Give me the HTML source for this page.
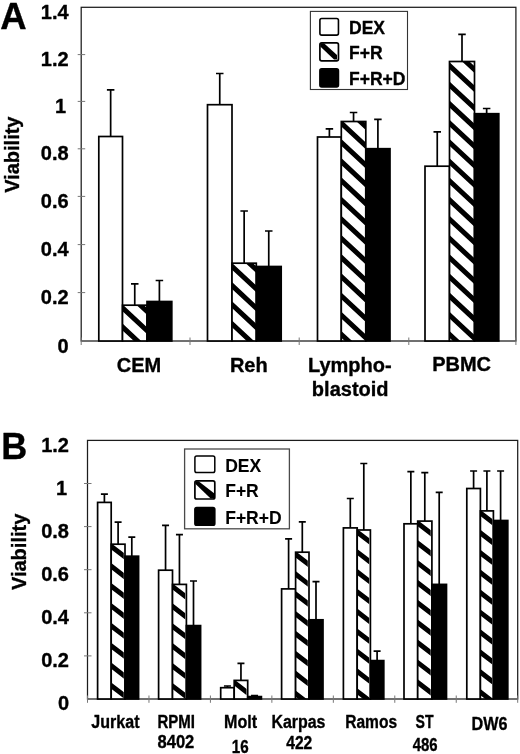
<!DOCTYPE html>
<html lang="en"><head><meta charset="utf-8"><title>Viability figure</title>
<style>html,body{margin:0;padding:0;background:#fff}svg{display:block}text{font-family:'Liberation Sans', Arial, Helvetica, sans-serif;font-weight:bold;fill:#000;stroke:#000;stroke-width:0.35px;stroke-linejoin:round}.lt{stroke-width:0.1px}</style>
</head><body>
<svg width="520" height="754" viewBox="0 0 520 754">
<rect width="520" height="754" fill="#fff"/>
<rect x="81.2" y="7.3" width="434.7" height="333.7" fill="none" stroke="#1c1c1c" stroke-width="1.25"/>
<path d="M77.7 292.60H85.2" stroke="#777" stroke-width="1"/>
<path d="M77.7 244.60H85.2" stroke="#777" stroke-width="1"/>
<path d="M77.7 196.40H85.2" stroke="#777" stroke-width="1"/>
<path d="M77.7 148.80H85.2" stroke="#777" stroke-width="1"/>
<path d="M77.7 101.40H85.2" stroke="#777" stroke-width="1"/>
<path d="M77.7 54.60H85.2" stroke="#777" stroke-width="1"/>
<path d="M81.20 337.5V345.0" stroke="#777" stroke-width="1"/>
<path d="M190.00 337.5V345.0" stroke="#777" stroke-width="1"/>
<path d="M299.20 337.5V345.0" stroke="#777" stroke-width="1"/>
<path d="M408.80 337.5V345.0" stroke="#777" stroke-width="1"/>
<path d="M515.90 337.5V345.0" stroke="#777" stroke-width="1"/>
<text x="68.60" y="352.50" font-size="20" text-anchor="end" >0</text>
<text x="68.60" y="304.10" font-size="20" text-anchor="end" >0.2</text>
<text x="68.60" y="256.10" font-size="20" text-anchor="end" >0.4</text>
<text x="68.60" y="207.90" font-size="20" text-anchor="end" >0.6</text>
<text x="68.60" y="160.30" font-size="20" text-anchor="end" >0.8</text>
<text x="66.20" y="112.90" font-size="20" text-anchor="end" >1</text>
<text x="68.60" y="66.10" font-size="20" text-anchor="end" >1.2</text>
<text x="68.60" y="18.70" font-size="20" text-anchor="end" >1.4</text>
<path d="M110.65 136.50V89.80M106.90 89.80H114.40" stroke="#000" stroke-width="1.7" fill="none"/>
<path d="M134.75 305.20V283.80M131.00 283.80H138.50" stroke="#000" stroke-width="1.7" fill="none"/>
<path d="M159.40 301.50V280.50M155.65 280.50H163.15" stroke="#000" stroke-width="1.7" fill="none"/>
<rect x="98.80" y="136.50" width="23.70" height="204.50" fill="#fff" stroke="#000" stroke-width="1.7" />
<clipPath id="c1"><rect x="122.50" y="305.20" width="24.50" height="35.80"/></clipPath>
<rect x="122.50" y="305.20" width="24.50" height="35.80" fill="#fff"/>
<path clip-path="url(#c1)" fill="#000" d="M122.50 285.20L147.00 307.99L147.00 314.79L122.50 292.00ZM122.50 304.40L147.00 327.19L147.00 333.99L122.50 311.20ZM122.50 323.60L147.00 346.38L147.00 353.19L122.50 330.40Z"/>
<rect x="122.50" y="305.20" width="24.50" height="35.80" fill="none" stroke="#000" stroke-width="1.7"/>
<rect x="147.00" y="301.50" width="24.80" height="39.50" fill="#000" stroke="#000" stroke-width="1.7" />
<path d="M219.75 104.70V73.50M216.00 73.50H223.50" stroke="#000" stroke-width="1.7" fill="none"/>
<path d="M244.15 263.20V211.00M240.40 211.00H247.90" stroke="#000" stroke-width="1.7" fill="none"/>
<path d="M268.75 266.50V231.00M265.00 231.00H272.50" stroke="#000" stroke-width="1.7" fill="none"/>
<rect x="207.50" y="104.70" width="24.50" height="236.30" fill="#fff" stroke="#000" stroke-width="1.7" />
<clipPath id="c2"><rect x="232.00" y="263.20" width="24.30" height="77.80"/></clipPath>
<rect x="232.00" y="263.20" width="24.30" height="77.80" fill="#fff"/>
<path clip-path="url(#c2)" fill="#000" d="M232.00 243.70L256.30 266.30L256.30 273.10L232.00 250.50ZM232.00 262.90L256.30 285.50L256.30 292.30L232.00 269.70ZM232.00 282.10L256.30 304.70L256.30 311.50L232.00 288.90ZM232.00 301.30L256.30 323.90L256.30 330.70L232.00 308.10ZM232.00 320.50L256.30 343.10L256.30 349.90L232.00 327.30ZM232.00 339.70L256.30 362.30L256.30 369.10L232.00 346.50Z"/>
<rect x="232.00" y="263.20" width="24.30" height="77.80" fill="none" stroke="#000" stroke-width="1.7"/>
<rect x="256.30" y="266.50" width="24.90" height="74.50" fill="#000" stroke="#000" stroke-width="1.7" />
<path d="M329.40 137.00V128.80M325.65 128.80H333.15" stroke="#000" stroke-width="1.7" fill="none"/>
<path d="M353.55 121.50V112.50M349.80 112.50H357.30" stroke="#000" stroke-width="1.7" fill="none"/>
<path d="M377.90 148.70V119.30M374.15 119.30H381.65" stroke="#000" stroke-width="1.7" fill="none"/>
<rect x="317.50" y="137.00" width="23.80" height="204.00" fill="#fff" stroke="#000" stroke-width="1.7" />
<clipPath id="c3"><rect x="341.30" y="121.50" width="24.50" height="219.50"/></clipPath>
<rect x="341.30" y="121.50" width="24.50" height="219.50" fill="#fff"/>
<path clip-path="url(#c3)" fill="#000" d="M341.30 100.50L365.80 123.28L365.80 130.09L341.30 107.30ZM341.30 119.70L365.80 142.49L365.80 149.29L341.30 126.50ZM341.30 138.90L365.80 161.69L365.80 168.49L341.30 145.70ZM341.30 158.10L365.80 180.88L365.80 187.69L341.30 164.90ZM341.30 177.30L365.80 200.08L365.80 206.88L341.30 184.10ZM341.30 196.50L365.80 219.28L365.80 226.08L341.30 203.30ZM341.30 215.70L365.80 238.48L365.80 245.28L341.30 222.50ZM341.30 234.90L365.80 257.68L365.80 264.48L341.30 241.70ZM341.30 254.10L365.80 276.88L365.80 283.68L341.30 260.90ZM341.30 273.30L365.80 296.08L365.80 302.88L341.30 280.10ZM341.30 292.50L365.80 315.28L365.80 322.08L341.30 299.30ZM341.30 311.70L365.80 334.48L365.80 341.28L341.30 318.50ZM341.30 330.90L365.80 353.68L365.80 360.48L341.30 337.70Z"/>
<rect x="341.30" y="121.50" width="24.50" height="219.50" fill="none" stroke="#000" stroke-width="1.7"/>
<rect x="365.80" y="148.70" width="24.20" height="192.30" fill="#000" stroke="#000" stroke-width="1.7" />
<path d="M437.25 166.20V131.80M433.50 131.80H441.00" stroke="#000" stroke-width="1.7" fill="none"/>
<path d="M462.00 61.50V34.30M458.25 34.30H465.75" stroke="#000" stroke-width="1.7" fill="none"/>
<path d="M486.65 113.70V108.50M482.90 108.50H490.40" stroke="#000" stroke-width="1.7" fill="none"/>
<rect x="425.00" y="166.20" width="24.50" height="174.80" fill="#fff" stroke="#000" stroke-width="1.7" />
<clipPath id="c4"><rect x="449.50" y="61.50" width="25.00" height="279.50"/></clipPath>
<rect x="449.50" y="61.50" width="25.00" height="279.50" fill="#fff"/>
<path clip-path="url(#c4)" fill="#000" d="M449.50 43.00L474.50 66.25L474.50 73.05L449.50 49.80ZM449.50 62.20L474.50 85.45L474.50 92.25L449.50 69.00ZM449.50 81.40L474.50 104.65L474.50 111.45L449.50 88.20ZM449.50 100.60L474.50 123.85L474.50 130.65L449.50 107.40ZM449.50 119.80L474.50 143.05L474.50 149.85L449.50 126.60ZM449.50 139.00L474.50 162.25L474.50 169.05L449.50 145.80ZM449.50 158.20L474.50 181.45L474.50 188.25L449.50 165.00ZM449.50 177.40L474.50 200.65L474.50 207.45L449.50 184.20ZM449.50 196.60L474.50 219.85L474.50 226.65L449.50 203.40ZM449.50 215.80L474.50 239.05L474.50 245.85L449.50 222.60ZM449.50 235.00L474.50 258.25L474.50 265.05L449.50 241.80ZM449.50 254.20L474.50 277.45L474.50 284.25L449.50 261.00ZM449.50 273.40L474.50 296.65L474.50 303.45L449.50 280.20ZM449.50 292.60L474.50 315.85L474.50 322.65L449.50 299.40ZM449.50 311.80L474.50 335.05L474.50 341.85L449.50 318.60ZM449.50 331.00L474.50 354.25L474.50 361.05L449.50 337.80Z"/>
<rect x="449.50" y="61.50" width="25.00" height="279.50" fill="none" stroke="#000" stroke-width="1.7"/>
<rect x="474.50" y="113.70" width="24.30" height="227.30" fill="#000" stroke="#000" stroke-width="1.7" />
<rect x="310.40" y="11.40" width="97.10" height="78.10" fill="#fff" stroke="#333" stroke-width="1.1" />
<rect x="319.90" y="18.50" width="18.55" height="16.60" fill="#fff" stroke="#000" stroke-width="1.6" rx="1.8"/>
<rect x="319.90" y="42.90" width="18.55" height="17.90" fill="#fff" stroke="#000" stroke-width="1.7" rx="1.8"/>
<path d="M320.3 43.2L324 43.2L337 55V59.6L334 59.6L320.3 46.6Z" fill="#000"/>
<rect x="319.90" y="68.90" width="18.55" height="17.95" fill="#000" stroke="#000" stroke-width="1.6" rx="1.8"/>
<text x="349.00" y="34.20" font-size="17.5" text-anchor="start" >DEX</text>
<text x="349.00" y="58.60" font-size="17.5" text-anchor="start" >F+R</text>
<text x="349.00" y="85.20" font-size="17.5" text-anchor="start" >F+R+D</text>
<text x="139.00" y="371.60" font-size="20" text-anchor="middle" >CEM</text>
<text x="248.80" y="371.60" font-size="20" text-anchor="middle" >Reh</text>
<text x="349.80" y="371.60" font-size="20" text-anchor="middle" >Lympho-</text>
<text x="350.20" y="395.90" font-size="20" text-anchor="middle" >blastoid</text>
<text x="461.60" y="370.60" font-size="20" text-anchor="middle" >PBMC</text>
<text x="0.30" y="28.60" font-size="36.5" text-anchor="start" >A</text>
<text x="0.00" y="0.00" font-size="20" text-anchor="middle" transform="translate(18.7 154.7) rotate(-90)">Viability</text>
<rect x="87.5" y="440.4" width="430.20000000000005" height="258.6" fill="none" stroke="#1c1c1c" stroke-width="1.25"/>
<path d="M84.0 655.90H91.5" stroke="#777" stroke-width="1"/>
<path d="M84.0 612.80H91.5" stroke="#777" stroke-width="1"/>
<path d="M84.0 569.70H91.5" stroke="#777" stroke-width="1"/>
<path d="M84.0 526.60H91.5" stroke="#777" stroke-width="1"/>
<path d="M84.0 483.50H91.5" stroke="#777" stroke-width="1"/>
<path d="M87.50 695.5V702.8" stroke="#777" stroke-width="1"/>
<path d="M148.96 695.5V702.8" stroke="#777" stroke-width="1"/>
<path d="M210.41 695.5V702.8" stroke="#777" stroke-width="1"/>
<path d="M271.87 695.5V702.8" stroke="#777" stroke-width="1"/>
<path d="M333.33 695.5V702.8" stroke="#777" stroke-width="1"/>
<path d="M394.79 695.5V702.8" stroke="#777" stroke-width="1"/>
<path d="M456.24 695.5V702.8" stroke="#777" stroke-width="1"/>
<path d="M517.70 695.5V702.8" stroke="#777" stroke-width="1"/>
<text x="69.00" y="710.30" font-size="20" text-anchor="end" >0</text>
<text x="69.00" y="667.20" font-size="20" text-anchor="end" >0.2</text>
<text x="69.00" y="624.10" font-size="20" text-anchor="end" >0.4</text>
<text x="69.00" y="581.00" font-size="20" text-anchor="end" >0.6</text>
<text x="69.00" y="537.90" font-size="20" text-anchor="end" >0.8</text>
<text x="67.00" y="494.80" font-size="20" text-anchor="end" >1</text>
<text x="69.00" y="451.70" font-size="20" text-anchor="end" >1.2</text>
<path d="M104.40 502.40V494.20M100.90 494.20H107.90" stroke="#000" stroke-width="1.7" fill="none"/>
<path d="M118.10 544.20V522.20M114.60 522.20H121.60" stroke="#000" stroke-width="1.7" fill="none"/>
<path d="M131.80 556.20V537.20M128.30 537.20H135.30" stroke="#000" stroke-width="1.7" fill="none"/>
<rect x="97.60" y="502.40" width="13.60" height="196.60" fill="#fff" stroke="#000" stroke-width="1.7" />
<clipPath id="c5"><rect x="111.20" y="544.20" width="12.60" height="154.80"/></clipPath>
<rect x="111.20" y="544.20" width="13.80" height="154.80" fill="#fff"/>
<path clip-path="url(#c5)" fill="#000" d="M111.20 523.30L125.00 533.93L125.00 540.13L111.20 529.50ZM111.20 543.20L125.00 553.83L125.00 560.03L111.20 549.40ZM111.20 563.10L125.00 573.73L125.00 579.93L111.20 569.30ZM111.20 583.00L125.00 593.63L125.00 599.83L111.20 589.20ZM111.20 602.90L125.00 613.53L125.00 619.73L111.20 609.10ZM111.20 622.80L125.00 633.43L125.00 639.63L111.20 629.00ZM111.20 642.70L125.00 653.33L125.00 659.53L111.20 648.90ZM111.20 662.60L125.00 673.23L125.00 679.43L111.20 668.80ZM111.20 682.50L125.00 693.13L125.00 699.33L111.20 688.70Z"/>
<rect x="111.20" y="544.20" width="13.80" height="154.80" fill="none" stroke="#000" stroke-width="1.7"/>
<rect x="125.00" y="556.20" width="13.60" height="142.80" fill="#000" stroke="#000" stroke-width="1.7" />
<path d="M165.55 570.20V525.40M162.05 525.40H169.05" stroke="#000" stroke-width="1.7" fill="none"/>
<path d="M179.45 584.40V534.70M175.95 534.70H182.95" stroke="#000" stroke-width="1.7" fill="none"/>
<path d="M193.50 625.60V581.00M190.00 581.00H197.00" stroke="#000" stroke-width="1.7" fill="none"/>
<rect x="158.60" y="570.20" width="13.90" height="128.80" fill="#fff" stroke="#000" stroke-width="1.7" />
<clipPath id="c6"><rect x="172.50" y="584.40" width="12.70" height="114.60"/></clipPath>
<rect x="172.50" y="584.40" width="13.90" height="114.60" fill="#fff"/>
<path clip-path="url(#c6)" fill="#000" d="M172.50 563.50L186.40 574.20L186.40 580.40L172.50 569.70ZM172.50 583.40L186.40 594.10L186.40 600.30L172.50 589.60ZM172.50 603.30L186.40 614.00L186.40 620.20L172.50 609.50ZM172.50 623.20L186.40 633.90L186.40 640.10L172.50 629.40ZM172.50 643.10L186.40 653.80L186.40 660.00L172.50 649.30ZM172.50 663.00L186.40 673.70L186.40 679.90L172.50 669.20ZM172.50 682.90L186.40 693.60L186.40 699.80L172.50 689.10Z"/>
<rect x="172.50" y="584.40" width="13.90" height="114.60" fill="none" stroke="#000" stroke-width="1.7"/>
<rect x="186.40" y="625.60" width="14.20" height="73.40" fill="#000" stroke="#000" stroke-width="1.7" />
<path d="M227.45 687.70V686.00M223.95 686.00H230.95" stroke="#000" stroke-width="1.7" fill="none"/>
<path d="M240.95 680.40V663.40M237.45 663.40H244.45" stroke="#000" stroke-width="1.7" fill="none"/>
<path d="M254.55 696.60V695.60M251.05 695.60H258.05" stroke="#000" stroke-width="1.7" fill="none"/>
<rect x="220.70" y="687.70" width="13.50" height="11.30" fill="#fff" stroke="#000" stroke-width="1.7" />
<clipPath id="c7"><rect x="234.20" y="680.40" width="12.30" height="18.60"/></clipPath>
<rect x="234.20" y="680.40" width="13.50" height="18.60" fill="#fff"/>
<path clip-path="url(#c7)" fill="#000" d="M234.20 659.50L247.70 669.89L247.70 676.10L234.20 665.70ZM234.20 679.40L247.70 689.79L247.70 696.00L234.20 685.60Z"/>
<rect x="234.20" y="680.40" width="13.50" height="18.60" fill="none" stroke="#000" stroke-width="1.7"/>
<rect x="247.70" y="696.60" width="13.70" height="2.40" fill="#000" stroke="#000" stroke-width="1.7" />
<path d="M288.60 588.90V538.90M285.10 538.90H292.10" stroke="#000" stroke-width="1.7" fill="none"/>
<path d="M302.30 552.20V521.90M298.80 521.90H305.80" stroke="#000" stroke-width="1.7" fill="none"/>
<path d="M316.00 619.80V581.60M312.50 581.60H319.50" stroke="#000" stroke-width="1.7" fill="none"/>
<rect x="281.60" y="588.90" width="14.00" height="110.10" fill="#fff" stroke="#000" stroke-width="1.7" />
<clipPath id="c8"><rect x="295.60" y="552.20" width="12.20" height="146.80"/></clipPath>
<rect x="295.60" y="552.20" width="13.40" height="146.80" fill="#fff"/>
<path clip-path="url(#c8)" fill="#000" d="M295.60 531.30L309.00 541.62L309.00 547.82L295.60 537.50ZM295.60 551.20L309.00 561.52L309.00 567.72L295.60 557.40ZM295.60 571.10L309.00 581.42L309.00 587.62L295.60 577.30ZM295.60 591.00L309.00 601.32L309.00 607.52L295.60 597.20ZM295.60 610.90L309.00 621.22L309.00 627.42L295.60 617.10ZM295.60 630.80L309.00 641.12L309.00 647.32L295.60 637.00ZM295.60 650.70L309.00 661.02L309.00 667.22L295.60 656.90ZM295.60 670.60L309.00 680.92L309.00 687.12L295.60 676.80ZM295.60 690.50L309.00 700.82L309.00 707.02L295.60 696.70Z"/>
<rect x="295.60" y="552.20" width="13.40" height="146.80" fill="none" stroke="#000" stroke-width="1.7"/>
<rect x="309.00" y="619.80" width="14.00" height="79.20" fill="#000" stroke="#000" stroke-width="1.7" />
<path d="M350.30 527.90V498.50M346.80 498.50H353.80" stroke="#000" stroke-width="1.7" fill="none"/>
<path d="M363.80 530.00V463.50M360.30 463.50H367.30" stroke="#000" stroke-width="1.7" fill="none"/>
<path d="M377.10 660.60V651.20M373.60 651.20H380.60" stroke="#000" stroke-width="1.7" fill="none"/>
<rect x="343.40" y="527.90" width="13.80" height="171.10" fill="#fff" stroke="#000" stroke-width="1.7" />
<clipPath id="c9"><rect x="357.20" y="530.00" width="12.00" height="169.00"/></clipPath>
<rect x="357.20" y="530.00" width="13.20" height="169.00" fill="#fff"/>
<path clip-path="url(#c9)" fill="#000" d="M357.20 509.10L370.40 519.26L370.40 525.46L357.20 515.30ZM357.20 529.00L370.40 539.16L370.40 545.36L357.20 535.20ZM357.20 548.90L370.40 559.06L370.40 565.26L357.20 555.10ZM357.20 568.80L370.40 578.96L370.40 585.16L357.20 575.00ZM357.20 588.70L370.40 598.86L370.40 605.06L357.20 594.90ZM357.20 608.60L370.40 618.76L370.40 624.96L357.20 614.80ZM357.20 628.50L370.40 638.66L370.40 644.86L357.20 634.70ZM357.20 648.40L370.40 658.56L370.40 664.76L357.20 654.60ZM357.20 668.30L370.40 678.46L370.40 684.66L357.20 674.50ZM357.20 688.20L370.40 698.36L370.40 704.56L357.20 694.40Z"/>
<rect x="357.20" y="530.00" width="13.20" height="169.00" fill="none" stroke="#000" stroke-width="1.7"/>
<rect x="370.40" y="660.60" width="13.40" height="38.40" fill="#000" stroke="#000" stroke-width="1.7" />
<path d="M410.85 523.80V471.60M407.35 471.60H414.35" stroke="#000" stroke-width="1.7" fill="none"/>
<path d="M424.80 521.10V472.70M421.30 472.70H428.30" stroke="#000" stroke-width="1.7" fill="none"/>
<path d="M439.20 584.40V492.40M435.70 492.40H442.70" stroke="#000" stroke-width="1.7" fill="none"/>
<rect x="404.00" y="523.80" width="13.70" height="175.20" fill="#fff" stroke="#000" stroke-width="1.7" />
<clipPath id="c10"><rect x="417.70" y="521.10" width="13.00" height="177.90"/></clipPath>
<rect x="417.70" y="521.10" width="14.20" height="177.90" fill="#fff"/>
<path clip-path="url(#c10)" fill="#000" d="M417.70 500.20L431.90 511.13L431.90 517.33L417.70 506.40ZM417.70 520.10L431.90 531.03L431.90 537.23L417.70 526.30ZM417.70 540.00L431.90 550.93L431.90 557.13L417.70 546.20ZM417.70 559.90L431.90 570.83L431.90 577.03L417.70 566.10ZM417.70 579.80L431.90 590.73L431.90 596.93L417.70 586.00ZM417.70 599.70L431.90 610.63L431.90 616.83L417.70 605.90ZM417.70 619.60L431.90 630.53L431.90 636.73L417.70 625.80ZM417.70 639.50L431.90 650.43L431.90 656.63L417.70 645.70ZM417.70 659.40L431.90 670.33L431.90 676.53L417.70 665.60ZM417.70 679.30L431.90 690.23L431.90 696.43L417.70 685.50Z"/>
<rect x="417.70" y="521.10" width="14.20" height="177.90" fill="none" stroke="#000" stroke-width="1.7"/>
<rect x="431.90" y="584.40" width="14.60" height="114.60" fill="#000" stroke="#000" stroke-width="1.7" />
<path d="M473.60 488.50V471.00M470.10 471.00H477.10" stroke="#000" stroke-width="1.7" fill="none"/>
<path d="M486.90 510.90V471.00M483.40 471.00H490.40" stroke="#000" stroke-width="1.7" fill="none"/>
<path d="M500.60 520.50V471.00M497.10 471.00H504.10" stroke="#000" stroke-width="1.7" fill="none"/>
<rect x="466.80" y="488.50" width="13.60" height="210.50" fill="#fff" stroke="#000" stroke-width="1.7" />
<clipPath id="c11"><rect x="480.40" y="510.90" width="11.80" height="188.10"/></clipPath>
<rect x="480.40" y="510.90" width="13.00" height="188.10" fill="#fff"/>
<path clip-path="url(#c11)" fill="#000" d="M480.40 490.00L493.40 500.01L493.40 506.21L480.40 496.20ZM480.40 509.90L493.40 519.91L493.40 526.11L480.40 516.10ZM480.40 529.80L493.40 539.81L493.40 546.01L480.40 536.00ZM480.40 549.70L493.40 559.71L493.40 565.91L480.40 555.90ZM480.40 569.60L493.40 579.61L493.40 585.81L480.40 575.80ZM480.40 589.50L493.40 599.51L493.40 605.71L480.40 595.70ZM480.40 609.40L493.40 619.41L493.40 625.61L480.40 615.60ZM480.40 629.30L493.40 639.31L493.40 645.51L480.40 635.50ZM480.40 649.20L493.40 659.21L493.40 665.41L480.40 655.40ZM480.40 669.10L493.40 679.11L493.40 685.31L480.40 675.30ZM480.40 689.00L493.40 699.01L493.40 705.21L480.40 695.20Z"/>
<rect x="480.40" y="510.90" width="13.00" height="188.10" fill="none" stroke="#000" stroke-width="1.7"/>
<rect x="493.40" y="520.50" width="14.40" height="178.50" fill="#000" stroke="#000" stroke-width="1.7" />
<rect x="184.60" y="449.00" width="104.80" height="79.80" fill="#fff" stroke="#4a4a4a" stroke-width="1.3" />
<rect x="194.90" y="455.90" width="19.90" height="16.60" fill="#fff" stroke="#000" stroke-width="1.5" rx="1.8"/>
<rect x="194.90" y="480.90" width="19.90" height="18.10" fill="#fff" stroke="#000" stroke-width="1.7" rx="1.8"/>
<path d="M195.3 481.2L198.6 481.2L214.4 493.6V498.4L210.6 498.4L195.3 483.8Z" fill="#000"/>
<rect x="194.90" y="507.50" width="19.90" height="17.80" fill="#000" stroke="#000" stroke-width="1.6" rx="1.8"/>
<text x="225.20" y="472.40" font-size="17.5" text-anchor="start" class="lt">DEX</text>
<text x="225.20" y="496.90" font-size="17.5" text-anchor="start" class="lt">F+R</text>
<text x="225.20" y="523.50" font-size="17.5" text-anchor="start" class="lt">F+R+D</text>
<text x="91.30" y="728.30" font-size="18" text-anchor="start" textLength="48.20" lengthAdjust="spacingAndGlyphs" >Jurkat</text>
<text x="157.50" y="728.30" font-size="18" text-anchor="start" textLength="37.50" lengthAdjust="spacingAndGlyphs" >RPMI</text>
<text x="157.50" y="748.00" font-size="18" text-anchor="start" textLength="36.80" lengthAdjust="spacingAndGlyphs" >8402</text>
<text x="224.00" y="727.80" font-size="18" text-anchor="start" textLength="33.00" lengthAdjust="spacingAndGlyphs" >Molt</text>
<text x="231.70" y="753.00" font-size="18" text-anchor="start" textLength="16.90" lengthAdjust="spacingAndGlyphs" >16</text>
<text x="271.40" y="727.80" font-size="18" text-anchor="start" textLength="54.10" lengthAdjust="spacingAndGlyphs" >Karpas</text>
<text x="286.20" y="749.20" font-size="18" text-anchor="start" textLength="26.10" lengthAdjust="spacingAndGlyphs" >422</text>
<text x="345.20" y="727.80" font-size="18" text-anchor="start" textLength="51.90" lengthAdjust="spacingAndGlyphs" >Ramos</text>
<text x="415.50" y="727.80" font-size="18" text-anchor="start" textLength="18.00" lengthAdjust="spacingAndGlyphs" >ST</text>
<text x="412.70" y="750.90" font-size="18" text-anchor="start" textLength="24.90" lengthAdjust="spacingAndGlyphs" >486</text>
<text x="471.60" y="729.80" font-size="18" text-anchor="start" textLength="35.90" lengthAdjust="spacingAndGlyphs" >DW6</text>
<text x="1.20" y="458.90" font-size="36" text-anchor="start" >B</text>
<text x="0.00" y="0.00" font-size="20" text-anchor="middle" transform="translate(25.6 551.9) rotate(-90)">Viability</text>
</svg>
</body></html>
